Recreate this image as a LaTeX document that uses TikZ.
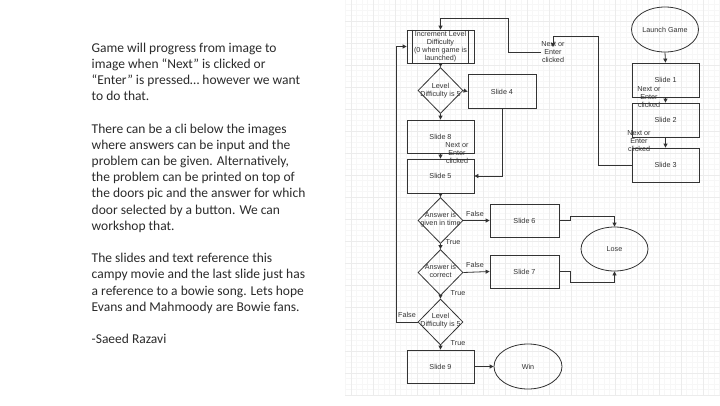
\documentclass[tikz,border=0pt]{standalone}
\usepackage{fontspec}
\setmainfont{Carlito}
\newfontfamily\diafont{Liberation Sans}
\usetikzlibrary{shapes.geometric,arrows.meta}
\definecolor{edgecol}{HTML}{333333}
\definecolor{txt}{HTML}{333333}
\definecolor{body}{HTML}{2B2B2B}
\definecolor{gridminor}{HTML}{F7F7F7}
\definecolor{gridmajor}{HTML}{ECECEC}
\begin{document}
\begin{tikzpicture}[x=1pt,y=-1pt,
  every node/.style={inner sep=0pt},
  dfont/.style={font=\diafont\fontsize{7.2}{8.2}\selectfont, text=txt},
  box/.style={draw=edgecol, line width=0.8pt, minimum width=67pt, minimum height=34pt, dfont, align=center},
  oval/.style={ellipse, draw=edgecol, line width=0.8pt, minimum width=67pt, minimum height=45pt, dfont},
  dia/.style={diamond, draw=edgecol, line width=0.8pt, minimum width=45pt, minimum height=46pt},
  dtext/.style={dfont, align=center},
  lbl/.style={dfont, align=center},
  conn/.style={draw=edgecol, line width=0.8pt, -{Triangle[length=4pt,width=4pt]}},
]
\useasboundingbox (0,0) rectangle (720,405);
\fill[white] (0,0) rectangle (720,405);
% grid
\foreach \x in {345.5,351,...,720} \draw[gridminor, line width=0.3pt] (\x,0) -- (\x,395);
\foreach \y in {4.5,10,...,395} \draw[gridminor, line width=0.3pt] (345,\y) -- (720,\y);
\foreach \x in {351,373,...,720} \draw[gridmajor, line width=0.5pt] (\x,0) -- (\x,395);
\foreach \y in {21,43,...,395} \draw[gridmajor, line width=0.5pt] (345,\y) -- (720,\y);

% left notes
\node[anchor=north west, align=left, font=\fontsize{13.5}{16.2}\selectfont, text=body] (notes) at (91.5,42.5) {Game will progress from image to\\ image when “Next” is clicked or\\ “Enter” is pressed… however we want\\ to do that.\\[16.2pt] There can be a cli below the images\\ where answers can be input and the\\ problem can be given. Alternatively,\\ the problem can be printed on top of\\ the doors pic and the answer for which\\ door selected by a button. We can\\ workshop that.\\[16.2pt] The slides and text reference this\\ campy movie and the last slide just has\\ a reference to a bowie song. Lets hope\\ Evans and Mahmoody are Bowie fans.\\[16.2pt] -Saeed Razavi};

% right column
\node[oval] (launch) at (665,29.5) {Launch Game};
\node[box] (s1) at (665.5,80) {Slide 1};
\node[box] (s2) at (665.5,120) {Slide 2};
\node[box] (s3) at (665.5,165) {Slide 3};

% main column
\node[box, minimum height=33pt] (inc) at (440.5,46.5) {Increment Level\\Difficulty\\(0 when game is\\launched)};
\draw[edgecol, line width=0.8pt] ([xshift=6pt]inc.north west) -- ([xshift=6pt]inc.south west);
\draw[edgecol, line width=0.8pt] ([xshift=-6pt]inc.north east) -- ([xshift=-6pt]inc.south east);
\node[dia] (d1) at (440.5,90.5) {};
\node[dtext] (d1t) at (440.5,91) {Level\\Difficulty is 5};
\node[box, minimum width=68pt] (s4) at (502,91.5) {Slide 4};
\node[box, minimum height=33pt] (s8) at (440.5,136.5) {Slide 8};
\node[box] (s5) at (440.5,176) {Slide 5};
\node[dia] (d2) at (440.5,220.5) {};
\node[dtext] (d2t) at (440.5,220) {Answer is\\given in time};
\node[box, minimum width=69pt, minimum height=33pt] (s6) at (524.5,220.5) {Slide 6};
\node[dia] (d3) at (440.5,272.5) {};
\node[dtext] (d3t) at (440.5,271) {Answer is\\correct};
\node[box, minimum width=69pt, minimum height=33pt] (s7) at (524.5,271.5) {Slide 7};
\node[oval, minimum height=44pt] (lose) at (614.5,249) {Lose};
\node[dia] (d4) at (440.5,322) {};
\node[dtext] (d4t) at (440.5,321) {Level\\Difficulty is 5};
\node[box, minimum height=33pt] (s9) at (440.5,366.5) {Slide 9};
\node[oval, minimum width=68pt] (win) at (528,366.5) {Win};

% labels
\node[lbl] (n12) at (649,97) {Next or\\Enter\\clicked};
\node[lbl] (n23) at (639,141) {Next or\\Enter\\clicked};
\node[lbl] (n85) at (457,153) {Next or\\Enter\\clicked};
\node[lbl] (n3i) at (553,52) {Next or\\Enter\\clicked};
\node[lbl] (f2) at (475,214) {False};
\node[lbl] (t2) at (453,242) {True};
\node[lbl] (f3) at (475,265) {False};
\node[lbl] (t3) at (458,293) {True};
\node[lbl] (f4) at (407,315) {False};
\node[lbl] (t4) at (458,343) {True};

% helper coordinates
\coordinate (j1) at (598,36);
\coordinate (j2) at (508,18);
\coordinate (j3) at (396,46.5);
\coordinate (k1) at (570,216);
\coordinate (k2) at (570,282);

% connectors
\draw[conn] (launch.south) -- (s1.north);
\draw[conn] (s1.south) -- (s2.north);
\draw[conn] (s2.south) -- (s3.north);
\draw[conn] (s3.west) -| (j1) -| ([yshift=-6pt]n3i.north);
\draw[conn] (n3i.west) -| (j2) -| (inc.north);
\draw[conn] (inc.south) -- (d1.north);
\draw[conn] (d1.east) -- (s4.west);
\draw[conn] (d1.south) -- (s8.north);
\draw[conn] (s8.south) -- (s5.north);
\draw[conn] (s4.south) |- (s5.east);
\draw[conn] (s5.south) -- (d2.north);
\draw[conn] (d2.east) -- (s6.west);
\draw[conn] (d2.south) -- (d3.north);
\draw[conn] (d3.east) -- (s7.west);
\draw[conn] (d3.south) -- (d4.north);
\draw[conn] (d4.west) -| (j3) -- (inc.west);
\draw[conn] (d4.south) -- (s9.north);
\draw[conn] (s9.east) -- (win.west);
\draw[conn] (s6.east) -| (k1) -| (lose.north);
\draw[conn] (s7.east) -| (k2) -| (lose.south);
\end{tikzpicture}
\end{document}
